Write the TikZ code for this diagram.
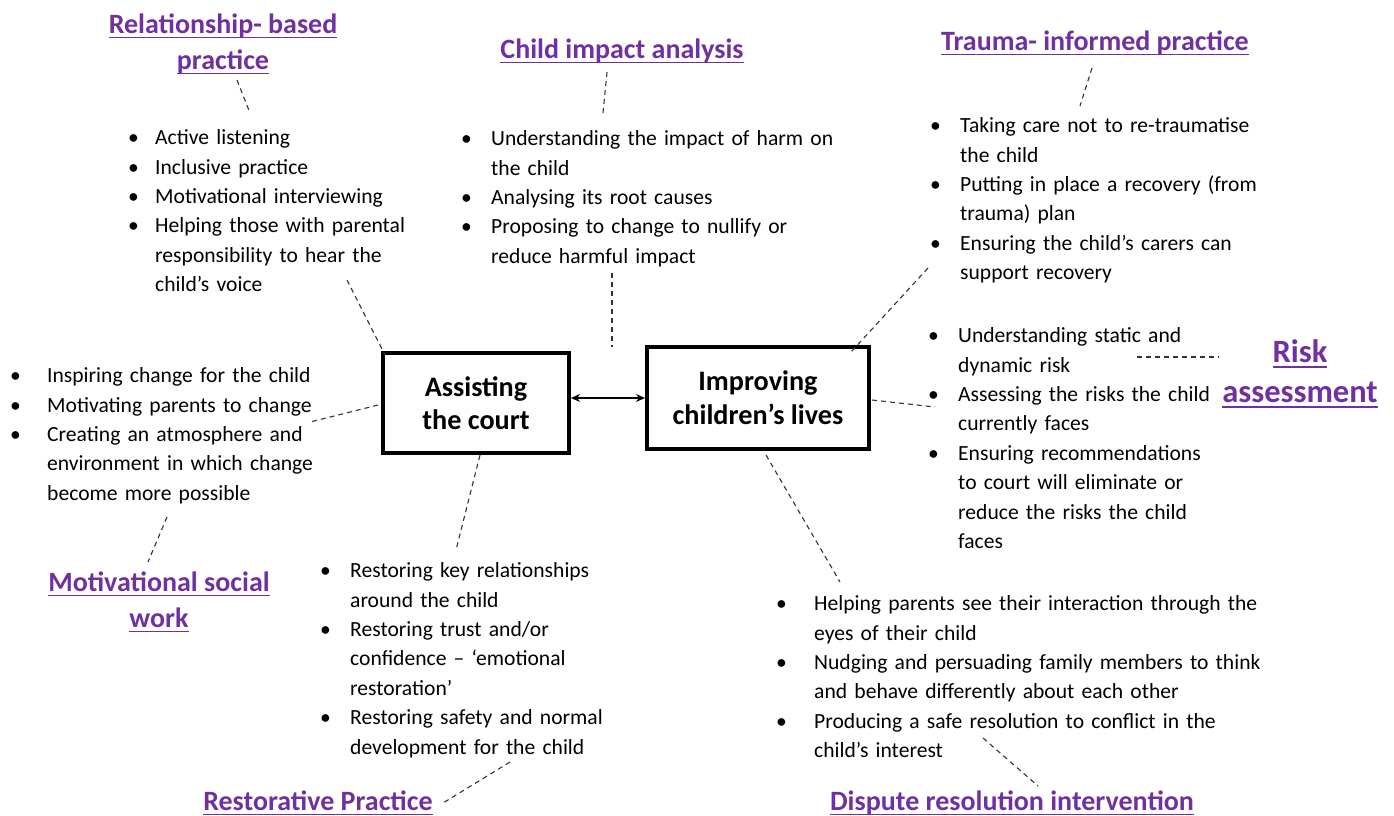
\documentclass[tikz,border=0pt]{standalone}
\usepackage{fontspec}
\setmainfont{Carlito}
\usetikzlibrary{arrows.meta}
\definecolor{hpurple}{HTML}{7030A0}
\newlength{\bind}
\newcommand{\bli}[1]{\par\noindent\hangindent=\bind\hangafter=1\makebox[\bind][l]{\textbullet}#1\par}
\newcommand{\nl}{\hfil\break}
\newcommand{\hul}[1]{\leavevmode\setbox0\hbox{#1}\rlap{\rule[-5pt]{\wd0}{1.7pt}}\box0}
\tikzset{
  hd/.style={font=\fontsize{28}{36}\selectfont\bfseries, text=hpurple, align=center, inner sep=0pt},
  bl/.style={font=\fontsize{21.6}{29.4}\selectfont, text width=600pt, align=left, inner sep=0pt, anchor=north west},
  bx/.style={draw, line width=4pt, font=\fontsize{28.2}{33.5}\selectfont\bfseries, align=center, inner sep=0pt},
  dsh/.style={draw=black!80, line width=1.1pt, dash pattern=on 5pt off 4pt},
}
\begin{document}
\begin{tikzpicture}[x=1pt,y=-1pt]
\useasboundingbox (0,0) rectangle (1394,816);
% central boxes
\node[bx, minimum width=186pt, minimum height=100pt] (b1) at (476,403) {Assisting\\the court};
\node[bx, minimum width=222pt, minimum height=102pt] (b2) at (758,397.5) {Improving\\children’s lives};
\coordinate (arr) at (0,398);
\draw[line width=1.3pt, {Stealth[length=9pt,width=8pt]}-{Stealth[length=9pt,width=8pt]}] (b1.east |- arr) -- (b2.west |- arr);
% headings
\node[hd] (hrel) at (223,44) {\hul{Relationship- based}\\\hul{practice}};
\node[hd] (hcia) at (622,51) {\hul{Child impact analysis}};
\node[hd] (htip) at (1095,43) {\hul{Trauma- informed practice}};
\node[hd, font=\fontsize{32.5}{40}\selectfont\bfseries] (hrisk) at (1300,374) {\hul{Risk}\\\hul{assessment}};
\node[hd] (hmsw) at (159,602) {\hul{Motivational social}\\\hul{work}};
\node[hd] (hrp) at (318,803) {\hul{Restorative Practice}};
\node[hd] (hdri) at (1012,803) {\hul{Dispute resolution intervention}};
% lists
\node[bl] (lrel) at (128,115) {\setlength{\bind}{27pt}%
\bli{Active listening}
\bli{Inclusive practice}
\bli{Motivational interviewing}
\bli{Helping those with parental\nl responsibility to hear the\nl child’s voice}};
\node[bl] (lcia) at (461,116) {\setlength{\bind}{30pt}%
\bli{Understanding the impact of harm on\nl the child}
\bli{Analysing its root causes}
\bli{Proposing to change to nullify or\nl reduce harmful impact}};
\node[bl] (ltip) at (930,103) {\setlength{\bind}{30pt}%
\bli{Taking care not to re-traumatise\nl the child}
\bli{Putting in place a recovery (from\nl trauma) plan}
\bli{Ensuring the child’s carers can\nl support recovery}};
\node[bl] (lrisk) at (928,313) {\setlength{\bind}{30pt}%
\bli{Understanding static and\nl dynamic risk}
\bli{Assessing the risks the child\nl currently faces}
\bli{Ensuring recommendations\nl to court will eliminate or\nl reduce the risks the child\nl faces}};
\node[bl] (lmsw) at (10,353) {\setlength{\bind}{37pt}%
\bli{Inspiring change for the child}
\bli{Motivating parents to change}
\bli{Creating an atmosphere and\nl environment in which change\nl become more possible}};
\node[bl] (lrp) at (320,548) {\setlength{\bind}{30pt}%
\bli{Restoring key relationships\nl around the child}
\bli{Restoring trust and/or\nl confidence – ‘emotional\nl restoration’}
\bli{Restoring safety and normal\nl development for the child}};
\node[bl] (ldri) at (776,581) {\setlength{\bind}{38pt}%
\bli{Helping parents see their interaction through the\nl eyes of their child}
\bli{Nudging and persuading family members to think\nl and behave differently about each other}
\bli{Producing a safe resolution to conflict in the\nl child’s interest}};
% connector end points
\coordinate (c1a) at (237,80);  \coordinate (c1b) at (250,113);
\coordinate (c2a) at (347,280); \coordinate (c2b) at (385,355);
\coordinate (c3a) at (607,72);  \coordinate (c3b) at (603,113);
\coordinate (c4a) at (612,273); \coordinate (c4b) at (612,347);
\coordinate (c5a) at (1092,68); \coordinate (c5b) at (1080,106);
\coordinate (c6a) at (928,268); \coordinate (c6b) at (851,352);
\coordinate (c7a) at (872,400); \coordinate (c7b) at (935,407);
\coordinate (c8a) at (1137,357);\coordinate (c8b) at (1219,357);
\coordinate (c9a) at (766,455); \coordinate (c9b) at (840,582);
\coordinate (c10a) at (983,738);\coordinate (c10b) at (1038,786);
\coordinate (c11a) at (378,405);\coordinate (c11b) at (310,422);
\coordinate (c12a) at (167,517);\coordinate (c12b) at (148,562);
\coordinate (c13a) at (480,455);\coordinate (c13b) at (456,550);
\coordinate (c14a) at (510,762);\coordinate (c14b) at (443,803);
\foreach \i in {1,...,14} {\draw[dsh] (c\i a) -- (c\i b);}
\end{tikzpicture}
\end{document}
